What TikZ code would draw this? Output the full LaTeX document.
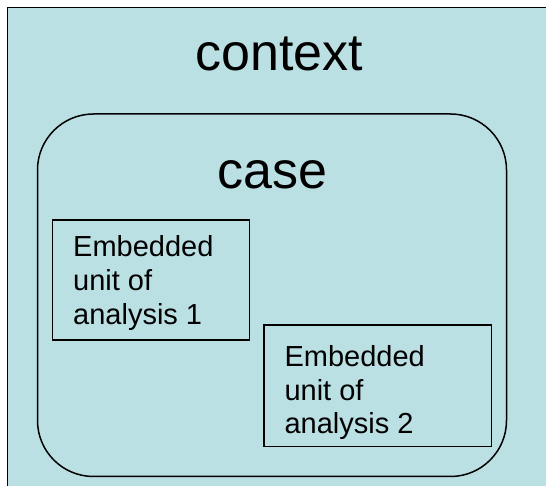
\documentclass[tikz,border=0pt]{standalone}
\usepackage{fontspec}
\setmainfont{Liberation Sans}
\definecolor{bgcyan}{RGB}{187,224,227}
\tikzset{
  unitbox/.style={draw=black, line width=1.1pt},
  unittext/.style={anchor=base west, inner sep=0pt, align=left, font=\fontsize{29}{33.7}\selectfont},
  titletext/.style={anchor=base, inner sep=0pt, font=\fontsize{52}{56}\selectfont}
}
\begin{document}
\begin{tikzpicture}[x=1pt,y=1pt]
\useasboundingbox (0,0) rectangle (546,486);
\clip (0,0) rectangle (546,486);
\fill[white] (0,0) rectangle (546,486);
\draw[fill=bgcyan, line width=1.3pt] (7.5,478.5) rectangle (560,-10);
\draw[line width=1.5pt, rounded corners=56pt] (37.5,372) rectangle (506.5,9.5);
\draw[unitbox] (52.7,266) rectangle (249.3,146);
\draw[unitbox] (264,161) rectangle (491.7,39.3);
\node[titletext] (context) at (279.5,415) {context};
\node[titletext] (case) at (272.5,297) {case};
\node[unittext] (u1) at (73,161.7) {Embedded\\unit of\\analysis 1};
\node[unittext] (u2) at (284.3,52) {Embedded\\unit of\\analysis 2};
\end{tikzpicture}
\end{document}
